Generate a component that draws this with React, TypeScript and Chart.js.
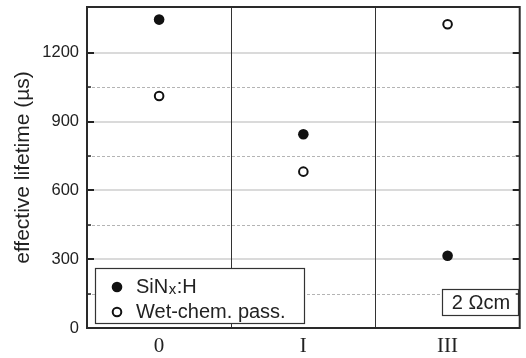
import { useEffect, useRef } from 'react';
import { Chart, registerables } from 'chart.js';

Chart.register(...registerables);

const categories = ['0', 'I', 'III'];
const sinxValues = [1345, 845, 315];
const wetChemValues = [1012, 682, 1325];
const yMin = 0;
const yMax = 1400;
const yMajorStep = 300;
const yMinorStep = 150;
const yTitle = 'effective lifetime (µs)';
const legendMain = ['SiN', 'Wet-chem. pass.'];
const legendSub = 'x';
const legendSuffix = ':H';
const boxLabel = '2 Ωcm';

const SANS = "'Liberation Sans', Arial, Helvetica, sans-serif";
const SERIF = "'Liberation Serif', 'Times New Roman', serif";
const DARK = '#222';

const decorPlugin = {
  id: 'decor',
  beforeDatasetsDraw(chart: any) {
    const { ctx, chartArea: a, scales } = chart;
    const y = scales.y;
    const x = scales.x;
    ctx.save();
    // horizontal grid
    for (const t of y.ticks) {
      const v = t.value;
      if (v <= yMin || v >= yMax) continue;
      const py = Math.round(y.getPixelForValue(v));
      const major = v % yMajorStep === 0;
      ctx.beginPath();
      if (major) {
        ctx.strokeStyle = '#dadada';
        ctx.lineWidth = 2;
        ctx.setLineDash([]);
        ctx.moveTo(a.left, py);
        ctx.lineTo(a.right, py);
      } else {
        ctx.strokeStyle = '#b4b4b4';
        ctx.lineWidth = 1;
        ctx.setLineDash([3, 2]);
        ctx.moveTo(a.left, py + 0.5);
        ctx.lineTo(a.right, py + 0.5);
      }
      ctx.stroke();
    }
    ctx.setLineDash([]);
    // category separators
    ctx.strokeStyle = '#333';
    ctx.lineWidth = 1;
    for (let i = 0; i < categories.length - 1; i++) {
      const px = Math.round((x.getPixelForValue(i) + x.getPixelForValue(i + 1)) / 2) + 0.5;
      ctx.beginPath();
      ctx.moveTo(px, a.top);
      ctx.lineTo(px, a.bottom);
      ctx.stroke();
    }
    ctx.restore();
  },
  afterDatasetsDraw(chart: any) {
    const { ctx, chartArea: a, scales } = chart;
    const y = scales.y;
    ctx.save();
    // legend box
    const lx = 95, ly = 268, lw = 209, lh = 55;
    ctx.fillStyle = '#fff';
    ctx.fillRect(lx, ly, lw, lh);
    ctx.strokeStyle = '#333';
    ctx.lineWidth = 1.2;
    ctx.strokeRect(lx + 0.5, ly + 0.5, lw, lh);
    const rowY = [287, 312];
    const mx = 117;
    ctx.beginPath();
    ctx.arc(mx, rowY[0], 5.3, 0, Math.PI * 2);
    ctx.fillStyle = '#111';
    ctx.fill();
    ctx.beginPath();
    ctx.arc(mx, rowY[1], 4.3, 0, Math.PI * 2);
    ctx.fillStyle = '#fff';
    ctx.fill();
    ctx.lineWidth = 2;
    ctx.strokeStyle = '#111';
    ctx.stroke();
    ctx.fillStyle = DARK;
    ctx.textBaseline = 'middle';
    ctx.textAlign = 'left';
    ctx.font = `20px ${SANS}`;
    const tx = 136;
    ctx.fillText(legendMain[0], tx, rowY[0]);
    const w = ctx.measureText(legendMain[0]).width;
    ctx.font = `15px ${SANS}`;
    ctx.fillText(legendSub, tx + w + 0.5, rowY[0] + 3);
    const w2 = ctx.measureText(legendSub).width;
    ctx.font = `20px ${SANS}`;
    ctx.fillText(legendSuffix, tx + w + w2 + 1, rowY[0]);
    ctx.fillText(legendMain[1], tx, rowY[1]);

    // label box
    const bx = 442, by = 289, bw = 76, bh = 26;
    ctx.fillStyle = '#fff';
    ctx.fillRect(bx, by, bw, bh);
    ctx.strokeStyle = '#333';
    ctx.lineWidth = 1.2;
    ctx.strokeRect(bx + 0.5, by + 0.5, bw, bh);
    ctx.fillStyle = DARK;
    ctx.textAlign = 'center';
    ctx.font = `20px ${SANS}`;
    ctx.fillText(boxLabel, bx + bw / 2 + 1, by + bh / 2 + 1);

    // ticks (inward, both sides)
    ctx.strokeStyle = '#222';
    for (const t of y.ticks) {
      const v = t.value;
      if (v <= yMin || v >= yMax) continue;
      const py = Math.round(y.getPixelForValue(v));
      const major = v % yMajorStep === 0;
      const len = major ? 7 : 4;
      ctx.lineWidth = major ? 2 : 1.5;
      ctx.beginPath();
      ctx.moveTo(a.left, py);
      ctx.lineTo(a.left + len, py);
      ctx.moveTo(a.right, py);
      ctx.lineTo(a.right - len, py);
      ctx.stroke();
    }
    // frame
    ctx.strokeStyle = '#2a2a2a';
    ctx.lineWidth = 2;
    ctx.strokeRect(a.left, a.top, a.right - a.left, a.bottom - a.top);
    ctx.restore();
  },
};

export default function App() {
  const canvasRef = useRef<HTMLCanvasElement | null>(null);

  useEffect(() => {
    const canvas = canvasRef.current;
    if (!canvas) return;
    const chart = new Chart(canvas, {
      type: 'line',
      data: {
        labels: categories,
        datasets: [
          {
            label: 'SiNx:H',
            data: sinxValues,
            showLine: false,
            pointStyle: 'circle',
            pointRadius: 5.3,
            pointBackgroundColor: '#111',
            pointBorderColor: '#111',
            pointBorderWidth: 0,
          },
          {
            label: 'Wet-chem. pass.',
            data: wetChemValues,
            showLine: false,
            pointStyle: 'circle',
            pointRadius: 4.3,
            pointBackgroundColor: '#fff',
            pointBorderColor: '#111',
            pointBorderWidth: 2,
          },
        ],
      },
      options: {
        responsive: false,
        animation: false,
        events: [],
        layout: { padding: { top: 7, right: 5, left: 0, bottom: 0 } },
        plugins: {
          legend: { display: false },
          tooltip: { enabled: false },
        },
        scales: {
          x: {
            type: 'category',
            offset: true,
            grid: { display: false, drawTicks: false },
            border: { display: false },
            ticks: {
              color: DARK,
              font: { family: SERIF, size: 21 },
              padding: 6,
              maxRotation: 0,
            },
            afterFit: (s: any) => {
              s.height = 30;
              s.paddingLeft = 0;
              s.paddingRight = 0;
            },
          },
          y: {
            type: 'linear',
            min: yMin,
            max: yMax,
            grid: { display: false, drawTicks: false },
            border: { display: false },
            ticks: {
              stepSize: yMinorStep,
              autoSkip: false,
              color: DARK,
              font: { family: SANS, size: 16.5 },
              padding: 8,
              callback: (v: any) => (Number(v) % yMajorStep === 0 ? String(v) : ''),
            },
            title: {
              display: true,
              text: yTitle,
              color: DARK,
              font: { family: SANS, size: 21 },
              padding: { top: 11, bottom: 0 },
            },
            afterFit: (s: any) => {
              s.width = 87;
              s.paddingTop = 0;
              s.paddingBottom = 0;
            },
          },
        },
      },
      plugins: [decorPlugin],
    });
    return () => chart.destroy();
  }, []);

  return (
    <div style={{ position: 'fixed', left: 0, top: 0, width: 526, height: 358, background: '#fff' }}>
      <canvas ref={canvasRef} width={526} height={358} />
    </div>
  );
}
